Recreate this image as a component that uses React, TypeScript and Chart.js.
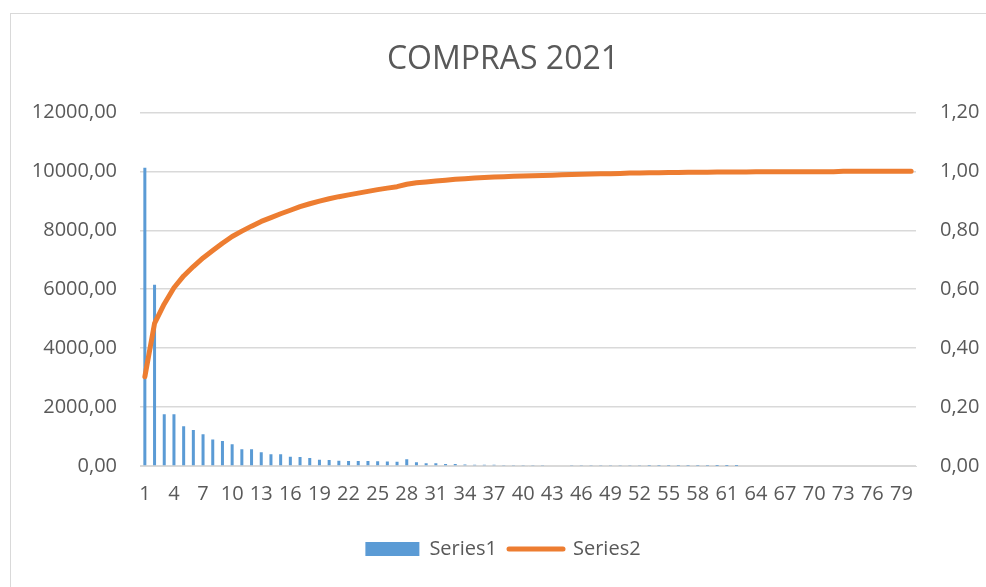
import React, { useEffect, useRef } from "react";
import { Chart, registerables } from "chart.js";

Chart.register(...registerables);

const TITLE = "COMPRAS 2021";

const categories: string[] = Array.from({ length: 80 }, (_, i) => String(i + 1));

const series1: number[] = [
  10120, 6150, 1760, 1755, 1350, 1225, 1080, 900, 850, 740,
  570, 565, 470, 400, 395, 310, 305, 270, 215, 205,
  175, 170, 170, 168, 165, 150, 145, 230, 130, 95,
  92, 70, 68, 48, 46, 40, 40, 38, 37, 35,
  33, 32, 25, 22, 21, 20, 19, 18, 17, 15,
  14, 13, 12, 11, 10, 9, 8, 8, 7, 4,
  3, 2, 0, 0, 0, 0, 0, 0, 0, 0,
  0, 0, 0, 0, 0, 0, 0, 0, 0, 0,
];

const series2: number[] = [
  0.303, 0.484, 0.55, 0.605, 0.645, 0.677, 0.706, 0.731, 0.756, 0.779,
  0.797, 0.814, 0.83, 0.843, 0.856, 0.868, 0.88, 0.89, 0.899, 0.907,
  0.914, 0.92, 0.926, 0.932, 0.938, 0.943, 0.948, 0.956, 0.961, 0.964,
  0.967, 0.97, 0.973, 0.975, 0.977, 0.979, 0.981, 0.982, 0.983, 0.984,
  0.985, 0.986, 0.987, 0.988, 0.989, 0.99, 0.991, 0.992, 0.992, 0.993,
  0.994, 0.994, 0.995, 0.995, 0.996, 0.996, 0.997, 0.997, 0.997, 0.998,
  0.998, 0.998, 0.998, 0.999, 0.999, 0.999, 0.999, 0.999, 0.999, 0.999,
  0.999, 0.999, 1.0, 1.0, 1.0, 1.0, 1.0, 1.0, 1.0, 1.0,
];

const leftTicks = { min: 0, max: 12000, step: 2000 };
const rightTicks = { min: 0, max: 1.2, step: 0.2 };

const BLUE = "#5B9BD5";
const ORANGE = "#ED7D31";
const TEXT = "#595959";
const GRID = "#D9D9D9";

export default function App() {
  const ref = useRef<HTMLCanvasElement | null>(null);

  useEffect(() => {
    if (!ref.current) return;
    Chart.defaults.font.family = "'Open Sans', sans-serif";
    const chart = new Chart(ref.current, {
      type: "bar",
      data: {
        labels: categories,
        datasets: [
          {
            type: "bar",
            label: "Series1",
            data: series1,
            backgroundColor: BLUE,
            borderWidth: 0,
            barPercentage: 0.31,
            categoryPercentage: 1,
            yAxisID: "y",
            order: 2,
          },
          {
            type: "line",
            label: "Series2",
            data: series2,
            borderColor: ORANGE,
            backgroundColor: ORANGE,
            borderWidth: 5,
            pointRadius: 0,
            tension: 0,
            borderCapStyle: "round",
            borderJoinStyle: "round",
            yAxisID: "y1",
            order: 1,
          } as any,
        ],
      },
      options: {
        responsive: false,
        animation: false,
        layout: { padding: { left: 20, right: 0, top: 0, bottom: 18 } },
        plugins: {
          title: {
            display: true,
            text: TITLE,
            color: TEXT,
            font: { size: 32, weight: "normal" },
            padding: { top: 41, bottom: 33 },
          },
          legend: {
            position: "bottom",
            labels: {
              color: TEXT,
              font: { size: 20 },
              usePointStyle: true,
              pointStyleWidth: 54,
              boxHeight: 14,
              padding: 12,
              generateLabels: () => [
                {
                  text: "Series1",
                  fillStyle: BLUE,
                  strokeStyle: BLUE,
                  lineWidth: 0,
                  pointStyle: "rect",
                  fontColor: TEXT,
                  datasetIndex: 0,
                },
                {
                  text: "Series2",
                  fillStyle: ORANGE,
                  strokeStyle: ORANGE,
                  lineWidth: 5,
                  lineCap: "round",
                  pointStyle: "line",
                  fontColor: TEXT,
                  datasetIndex: 1,
                },
              ] as any,
            },
          },
          tooltip: { enabled: false },
        },
        scales: {
          x: {
            offset: true,
            grid: { display: false, drawTicks: false },
            border: { display: true, color: GRID, width: 1 },
            ticks: {
              autoSkip: false,
              maxRotation: 0,
              color: TEXT,
              font: { size: 20 },
              padding: 16,
              callback: (_v: any, i: number) => (i % 3 === 0 ? categories[i] : ""),
            },
            afterFit: (s: any) => {
              s.height = 61;
            },
          },
          y: {
            position: "left",
            min: leftTicks.min,
            max: leftTicks.max,
            grid: { color: GRID, lineWidth: 1.5, drawTicks: false },
            border: { display: false },
            ticks: {
              stepSize: leftTicks.step,
              color: TEXT,
              font: { size: 20 },
              padding: 23,
              callback: (v: any) => Number(v).toFixed(2).replace(".", ","),
            },
            afterFit: (s: any) => {
              s.width = 120;
            },
          },
          y1: {
            position: "right",
            min: rightTicks.min,
            max: rightTicks.max,
            grid: { display: false, drawTicks: false },
            border: { display: false },
            ticks: {
              stepSize: rightTicks.step,
              color: TEXT,
              font: { size: 20 },
              padding: 24,
              callback: (v: any) => Number(v).toFixed(2).replace(".", ","),
            },
            afterFit: (s: any) => {
              s.width = 70;
            },
          },
        },
      },
    });
    return () => chart.destroy();
  }, []);

  return (
    <div style={{ position: "absolute", left: 0, top: 0, width: 986, height: 587, background: "#fff", overflow: "hidden" }}>
      <div
        style={{
          position: "absolute",
          left: 10,
          top: 13,
          width: 1000,
          height: 600,
          borderLeft: `1px solid ${GRID}`,
          borderTop: `1px solid ${GRID}`,
        }}
      />
      <canvas ref={ref} width={986} height={587} style={{ position: "absolute", left: 0, top: 0, width: 986, height: 587 }} />
    </div>
  );
}
